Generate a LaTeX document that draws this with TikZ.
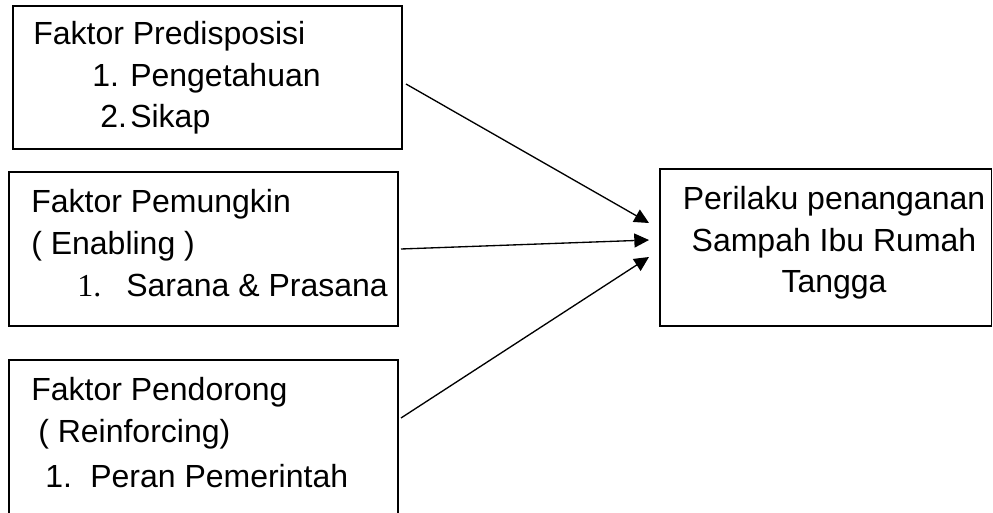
\documentclass[tikz,border=0pt]{standalone}
\usepackage{fontspec}
\setmainfont{Liberation Sans}
\newfontfamily\serifone{Liberation Serif}
\usetikzlibrary{arrows.meta,fit}
\begin{document}
\begin{tikzpicture}[x=0.75pt,y=-0.75pt,
  box/.style={draw=black,line width=1pt,inner sep=0pt,fit={#1}},
  txt/.style={anchor=base west,inner sep=0pt,font=\fontsize{24}{28}\selectfont},
  ctxt/.style={anchor=base,inner sep=0pt,font=\fontsize{24}{28}\selectfont},
  arr/.style={line width=1pt,-{Triangle[length=11pt,width=10.5pt]}}]
\useasboundingbox (0,0) rectangle (993,513);
\clip (0,0) rectangle (993,513);
\fill[white] (0,0) rectangle (993,513);
% boxes
\node (b1) [box={(13,6) (402,149)}] {};
\node (b2) [box={(9,172) (398,326)}] {};
\node (b3) [box={(9,360) (398,530)}] {};
\node (b4) [box={(660,169) (991.5,326)}] {};
% box 1 text
\node (t11) [txt] at (33,45) {Faktor Predisposisi};
\node (t12) [txt] at (92,87) {1.};
\node (t13) [txt] at (130,87) {Pengetahuan};
\node (t14) [txt] at (100,128) {2.};
\node (t15) [txt] at (130,128) {Sikap};
% box 2 text
\node (t21) [txt] at (31,213) {Faktor Pemungkin};
\node (t22) [txt] at (31,255) {( Enabling )};
\node (t23) [txt,font=\serifone\fontsize{24}{28}\selectfont] at (77,297) {1.};
\node (t24) [txt] at (126,297) {Sarana \& Prasana};
% box 3 text
\node (t31) [txt] at (31,401) {Faktor Pendorong};
\node (t32) [txt] at (38,442) {( Reinforcing)};
\node (t33) [txt] at (45,487) {1.};
\node (t34) [txt] at (90,487) {Peran Pemerintah};
% box 4 text
\node (t41) [ctxt] at (834,210) {Perilaku penanganan};
\node (t42) [ctxt] at (834,252) {Sampah Ibu Rumah};
\node (t43) [ctxt] at (834,293) {Tangga};
% arrows
\coordinate (s1) at (406,84);
\coordinate (e1) at (649,223);
\coordinate (s2) at (401,249);
\coordinate (e2) at (649,240);
\coordinate (s3) at (401,418);
\coordinate (e3) at (649,257);
\draw[arr] (s1) -- (e1);
\draw[arr] (s2) -- (e2);
\draw[arr] (s3) -- (e3);
\end{tikzpicture}
\end{document}
